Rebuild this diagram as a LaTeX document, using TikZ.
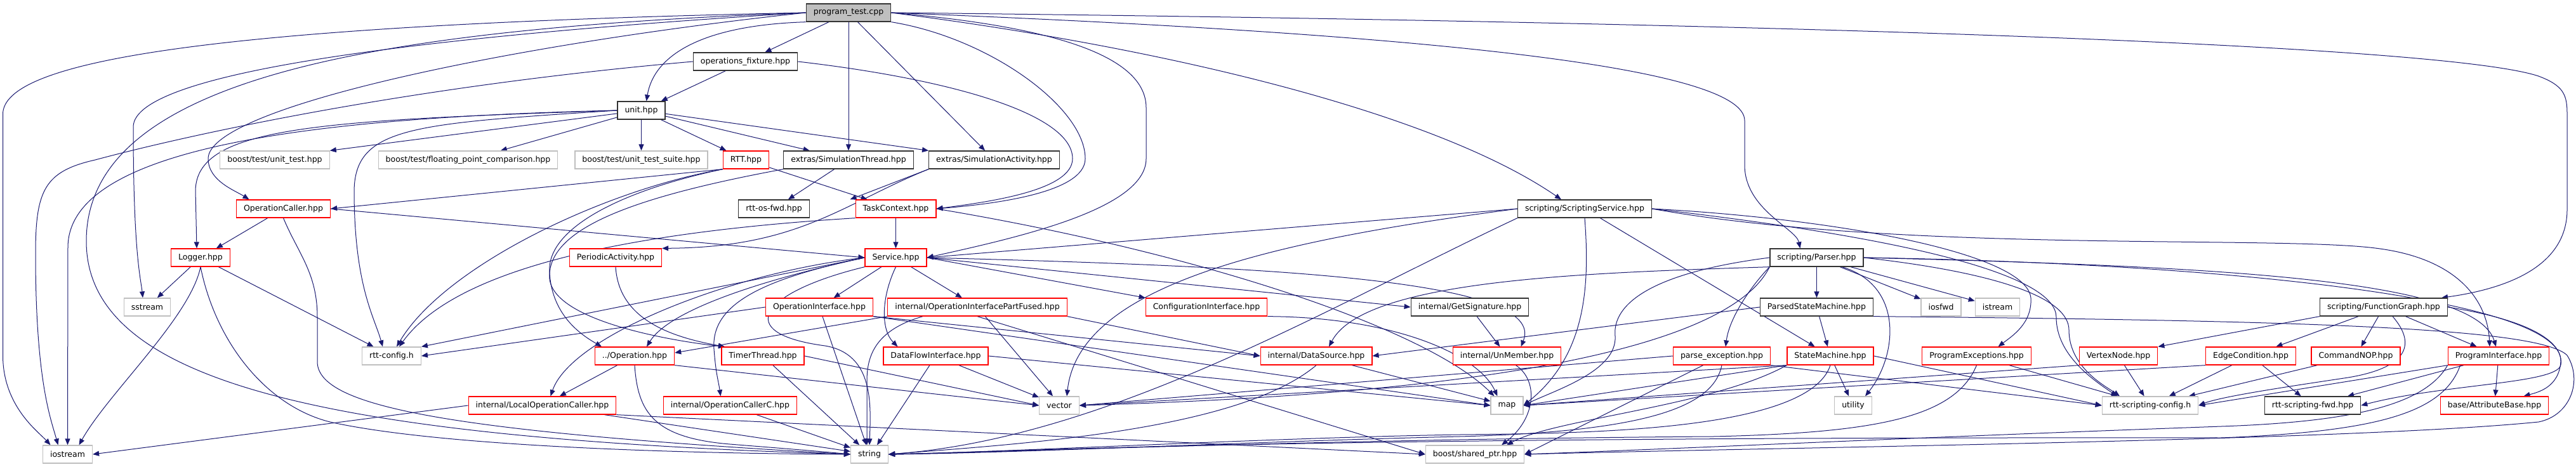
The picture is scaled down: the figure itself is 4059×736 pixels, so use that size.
\documentclass[tikz,border=0pt]{standalone}
\usepackage{fontspec}
\setmainfont{DejaVu Sans}
\usetikzlibrary{arrows.meta,backgrounds}
\definecolor{edgec}{HTML}{191970}
\definecolor{greyb}{HTML}{BFBFBF}
\definecolor{rootfill}{HTML}{BFBFBF}
\tikzset{
  nd/.style={rectangle, minimum height=28pt, inner xsep=11.5pt, inner ysep=0pt, font=\fontsize{12.5}{14}\selectfont, line width=1.3pt, fill=white},
  nblack/.style={nd, draw=black!80},
  nred/.style={nd, draw=red},
  ngrey/.style={nd, draw=greyb},
  nroot/.style={nd, draw=black!80, fill=rootfill},
  edg/.style={draw=edgec, line width=1pt, -{Triangle[length=10pt,width=8pt]}},
}
\begin{document}
\begin{tikzpicture}[x=1pt,y=-1pt]
\useasboundingbox (0,0) rectangle (4059,736);
% ---------- nodes ----------
\node[nroot] (pt) at (1337,20) {program\_test.cpp};
\node[nblack] (of) at (1174.5,97) {operations\_fixture.hpp};
\node[nblack] (unit) at (1010.5,174) {unit.hpp};
\node[ngrey] (but) at (433,252) {boost/test/unit\_test.hpp};
\node[ngrey] (bfp) at (737.5,252) {boost/test/floating\_point\_comparison.hpp};
\node[ngrey] (buts) at (1010.5,252) {boost/test/unit\_test\_suite.hpp};
\node[nred] (rtt) at (1175.5,252) {RTT.hpp};
\node[nblack] (simt) at (1337,252) {extras/SimulationThread.hpp};
\node[nblack] (sima) at (1566.5,252) {extras/SimulationActivity.hpp};
\node[nred] (opc) at (446.5,329) {OperationCaller.hpp};
\node[nblack] (osfwd) at (1219.5,329) {rtt-os-fwd.hpp};
\node[nred] (tc) at (1411.5,329) {TaskContext.hpp};
\node[nblack] (ss) at (2497,329) {scripting/ScriptingService.hpp};
\node[nred] (log) at (316,406) {Logger.hpp};
\node[nred] (pa) at (970,406) {PeriodicActivity.hpp};
\node[nred] (svc) at (1411.5,406) {Service.hpp};
\node[nblack] (parser) at (2862.5,406) {scripting/Parser.hpp};
\node[ngrey] (sst) at (232,484) {sstream};
\node[nred] (oi) at (1291,484) {OperationInterface.hpp};
\node[nred] (oipf) at (1540,484) {internal/OperationInterfacePartFused.hpp};
\node[nred] (ci) at (1901,484) {ConfigurationInterface.hpp};
\node[nblack] (gs) at (2316,484) {internal/GetSignature.hpp};
\node[nblack] (psm) at (2862.5,484) {ParsedStateMachine.hpp};
\node[ngrey] (iosfwd) at (3058.5,484) {iosfwd};
\node[ngrey] (istream) at (3147.5,484) {istream};
\node[nblack] (fg) at (3756,484) {scripting/FunctionGraph.hpp};
\node[ngrey] (rcfg) at (617,561) {rtt-config.h};
\node[nred] (op) at (1000,561) {../Operation.hpp};
\node[nred] (tt) at (1202,561) {TimerThread.hpp};
\node[nred] (dfi) at (1474.5,561) {DataFlowInterface.hpp};
\node[nred] (ds) at (2074,561) {internal/DataSource.hpp};
\node[nred] (um) at (2374.5,561) {internal/UnMember.hpp};
\node[nred] (pe) at (2713,561) {parse\_exception.hpp};
\node[nred] (sm) at (2884,561) {StateMachine.hpp};
\node[nred] (pex) at (3114.5,561) {ProgramExceptions.hpp};
\node[nred] (vn) at (3338,561) {VertexNode.hpp};
\node[nred] (ec) at (3546.5,561) {EdgeCondition.hpp};
\node[nred] (nop) at (3712,561) {CommandNOP.hpp};
\node[nred] (pi) at (3937,561) {ProgramInterface.hpp};
\node[nred] (loc) at (854.5,639) {internal/LocalOperationCaller.hpp};
\node[nred] (occ) at (1150.5,639) {internal/OperationCallerC.hpp};
\node[ngrey] (vec) at (1669,639) {vector};
\node[ngrey] (map) at (2374.5,639) {map};
\node[ngrey] (util) at (2920,639) {utility};
\node[ngrey] (rscfg) at (3388,639) {rtt-scripting-config.h};
\node[nblack] (rsfwd) at (3644,639) {rtt-scripting-fwd.hpp};
\node[nred] (ab) at (3930.5,639) {base/AttributeBase.hpp};
\node[ngrey] (ios) at (106.5,716) {iostream};
\node[ngrey] (str) at (1370,716) {string};
\node[ngrey] (sp) at (2324,716) {boost/shared\_ptr.hpp};
% ---------- edges ----------
\begin{pgfonlayer}{background}
% program_test.cpp
\draw[edg] (pt.west) .. controls (300,40) and (4.5,100) .. (4.5,180) -- (4.5,560) .. controls (4.5,640) and (60,680) .. ([xshift=-27pt]ios.north);
\draw[edg] (pt.west) .. controls (600,45) and (136,120) .. (136,380) .. controls (136,600) and (500,690) .. (str.west);
\draw[edg] (pt.west) .. controls (700,55) and (210,110) .. (210,200) .. controls (210,400) and (222,440) .. ([xshift=-7pt]sst.north);
\draw[edg] (pt.west) .. controls (800,70) and (328,170) .. (328,250) .. controls (328,285) and (370,300) .. ([xshift=-54pt]opc.north);
\draw[edg] (pt.south west) .. controls (1100,40) and (1030,90) .. ([xshift=8pt]unit.north);
\draw[edg] (pt) -- (of);
\draw[edg] (pt) -- (simt);
\draw[edg] (pt) -- (sima);
\draw[edg] (pt.south east) .. controls (1560,60) and (1710,170) .. (1710,250) .. controls (1710,305) and (1560,322) .. (tc.east);
\draw[edg] (pt.east) .. controls (1700,45) and (1806,100) .. (1806,170) -- (1806,250) .. controls (1806,330) and (1600,375) .. (svc.east);
\draw[edg] (pt.east) .. controls (1800,70) and (2250,170) .. ([xshift=-37pt]ss.north);
\draw[edg] (pt.east) .. controls (2300,55) and (2749,110) .. (2749,190) -- (2749,260) .. controls (2749,330) and (2830,360) .. ([xshift=-26pt]parser.north);
\draw[edg] (pt.east) .. controls (2800,35) and (3850,70) .. (4000,120) .. controls (4040,135) and (4045,150) .. (4045,180) -- (4045,330) .. controls (4045,420) and (3950,455) .. ([xshift=-10pt]fg.north east);
% operations_fixture.hpp
\draw[edg] (of) -- (unit);
\draw[edg] (of.west) .. controls (600,140) and (250,225) .. (150,252) .. controls (70,270) and (56,300) .. (56,400) .. controls (56,600) and (80,660) .. ([xshift=-15pt]ios.north);
\draw[edg] (of.east) .. controls (1500,125) and (1690,180) .. (1690,250) .. controls (1690,300) and (1560,318) .. (tc.east);
% unit.hpp
\draw[edg] (unit.west) .. controls (500,185) and (107,230) .. (107,390) -- (ios.north);
\draw[edg] (unit.west) .. controls (500,190) and (310,200) .. (308,300) -- ([xshift=-6pt]log.north);
\draw[edg] (unit.west) .. controls (650,195) and (560,200) .. (558,300) .. controls (558,450) and (590,500) .. ([xshift=-14pt]rcfg.north);
\draw[edg] (unit) -- (but.north east);
\draw[edg] (unit) -- (bfp);
\draw[edg] (unit) -- (buts);
\draw[edg] (unit) -- (rtt);
\draw[edg] (unit) -- (simt);
\draw[edg] (unit) -- (sima.north west);
% RTT.hpp
\draw[edg] (rtt.south west) -- (opc.east);
\draw[edg] (rtt) -- (tc);
\draw[edg] (rtt.south west) .. controls (950,300) and (700,420) .. ([xshift=8pt]rcfg.north);
\draw[edg] (rtt.south west) .. controls (980,300) and (860,360) .. (866,430) .. controls (870,500) and (920,530) .. ([xshift=-52pt]op.north);
% SimulationThread / SimulationActivity
\draw[edg] (simt) -- (osfwd);
\draw[edg] (simt.south west) .. controls (1000,310) and (860,360) .. (866,440) .. controls (875,510) and (1080,540) .. ([xshift=-60pt]tt.north);
\draw[edg] (sima.south west) -- ([xshift=-8pt]tc.north west);
\draw[edg] (sima.south west) .. controls (1330,320) and (1260,390) .. (pa.north east);
% TaskContext.hpp
\draw[edg] (tc) -- (svc);
\draw[edg] (tc.south west) .. controls (1000,365) and (720,420) .. ([xshift=12pt]rcfg.north);
\draw[edg] (tc.east) .. controls (1900,400) and (2250,520) .. ([xshift=-20pt]map.north);
% OperationCaller.hpp
\draw[edg] (opc) -- (log);
\draw[edg] (opc.east) -- (svc.west);
\draw[edg] (opc.south) .. controls (470,400) and (500,430) .. (500,500) -- (500,570) .. controls (500,640) and (700,680) .. (str.west);
% Logger.hpp
\draw[edg] (log) -- (sst);
\draw[edg] (log.south) .. controls (300,500) and (170,620) .. ([xshift=18pt]ios.north);
\draw[edg] (log.south) .. controls (340,540) and (420,640) .. (520,665) .. controls (700,705) and (1100,715) .. (str.west);
\draw[edg] (log) -- (rcfg);
% PeriodicActivity.hpp
\draw[edg] (pa.south) .. controls (975,500) and (1050,530) .. ([xshift=-60pt]tt.north);
% Service.hpp
\draw[edg] (svc) -- (oi);
\draw[edg] (svc) -- (oipf);
\draw[edg] (svc.east) -- (ci.north west);
\draw[edg] (svc.east) -- (gs.west);
\draw[edg] (svc.east) .. controls (2000,420) and (2440,440) .. ([xshift=22pt]um.north);
\draw[edg] (svc.west) .. controls (1250,430) and (1060,480) .. ([xshift=19pt]op.north);
\draw[edg] (svc.west) .. controls (1150,430) and (900,530) .. ([xshift=13pt]loc.north);
\draw[edg] (svc.west) .. controls (1200,440) and (1120,480) .. (1125,550) .. controls (1128,590) and (1132,600) .. ([xshift=-15pt]occ.north);
\draw[edg] (svc.south west) .. controls (1200,460) and (1150,525) .. (1300,545) .. controls (1378,558) and (1372,640) .. (str.north);
\draw[edg] (svc.west) -- (rcfg.north east);
\draw[edg] (svc.south) .. controls (1388,470) and (1388,520) .. ([xshift=-60pt]dfi.north);
% OperationInterface.hpp
\draw[edg] (oi.west) -- (rcfg.east);
\draw[edg] (oi) -- (str);
\draw[edg] (oi.south east) -- (ds.west);
\draw[edg] (oi.south east) -- (map.west);
% OperationInterfacePartFused.hpp
\draw[edg] (oipf.south west) -- ([yshift=5pt]op.east);
\draw[edg] (oipf) -- ([xshift=-10pt]vec.north);
\draw[edg] ([xshift=-86pt]oipf.south) .. controls (1380,520) and (1366,560) .. (1366,600) -- ([xshift=-4pt]str.north);
\draw[edg] (oipf.south) -- (sp.west);
\draw[edg] (oipf.south east) -- (ds.west);
% ConfigurationInterface, GetSignature, UnMember, DataSource, DataFlowInterface
\draw[edg] (ci.south east) .. controls (2200,500) and (2330,560) .. ([xshift=-15pt]map.north);
\draw[edg] (gs) -- (um);
\draw[edg] ([xshift=14pt]um.south) .. controls (2425,600) and (2420,660) .. ([xshift=42pt]sp.north);
\draw[edg] (ds) -- (map);
\draw[edg] (ds.south) .. controls (1950,680) and (1600,700) .. (str.east);
\draw[edg] (dfi) -- (vec);
\draw[edg] (dfi) -- ([xshift=12pt]str.north);
\draw[edg] (dfi.east) -- (map.west);
% TimerThread, Operation, LocalOperationCaller, OperationCallerC
\draw[edg] (tt) -- (str);
\draw[edg] (tt.east) -- (vec.west);
\draw[edg] (op) -- (loc);
\draw[edg] (op.south) .. controls (1005,650) and (1030,690) .. (1150,700) .. controls (1250,708) and (1300,712) .. (str.west);
\draw[edg] (op.south east) -- (vec.west);
\draw[edg] (loc.west) -- (ios.east);
\draw[edg] (loc) -- (str);
\draw[edg] (loc.south east) -- (sp.west);
\draw[edg] (occ) -- (str);
% ScriptingService.hpp
\draw[edg] (ss.west) -- (svc.east);
\draw[edg] (ss.west) .. controls (2000,380) and (1700,450) .. ([xshift=12pt]vec.north);
\draw[edg] (ss.south west) .. controls (2100,480) and (1750,690) .. (str.east);
\draw[edg] (ss.south) .. controls (2505,450) and (2500,560) .. (map.east);
\draw[edg] (ss) -- (sm);
\draw[edg] (ss.east) .. controls (2900,345) and (3195,400) .. (3200,470) .. controls (3202,510) and (3170,530) .. ([xshift=34pt]pex.north);
\draw[edg] (ss.east) .. controls (3050,380) and (3240,440) .. (3240,500) .. controls (3240,560) and (3300,600) .. ([xshift=-52pt]rscfg.north);
\draw[edg] (ss.east) .. controls (3000,400) and (3600,370) .. (3750,392) .. controls (3880,410) and (3920,480) .. ([xshift=-14pt]pi.north);
% Parser.hpp
\draw[edg] (parser.south west) .. controls (2500,430) and (2150,440) .. ([xshift=20pt]ds.north);
\draw[edg] (parser.south west) .. controls (2760,450) and (2725,500) .. ([xshift=6pt]pe.north);
\draw[edg] (parser) -- (psm);
\draw[edg] (parser) -- (iosfwd);
\draw[edg] (parser) -- (istream);
\draw[edg] ([xshift=40pt]parser.south) .. controls (3000,450) and (2990,560) .. ([xshift=19pt]util.north);
\draw[edg] (parser.east) .. controls (3150,430) and (3260,470) .. (3260,520) .. controls (3260,580) and (3320,610) .. ([xshift=-48pt]rscfg.north);
\draw[edg] (parser.west) .. controls (2600,430) and (2540,480) .. (2545,530) .. controls (2548,585) and (2450,615) .. (map.east);
\draw[edg] (parser.south west) .. controls (2700,600) and (2000,630) .. (vec.east);
\draw[edg] (parser.east) .. controls (3500,420) and (3900,440) .. ([xshift=-4pt]pi.north);
\draw[edg] (parser.east) .. controls (3500,415) and (4040,470) .. (4035,570) .. controls (4032,610) and (4000,618) .. ([xshift=46pt]ab.north);
% ParsedStateMachine.hpp
\draw[edg] (psm) -- (sm);
\draw[edg] (psm.west) -- (ds.east);
\draw[edg] (psm.south east) .. controls (3600,505) and (4000,515) .. (4045,560) .. controls (4070,600) and (4050,655) .. (4000,665) .. controls (3700,695) and (2800,705) .. (sp.east);
% StateMachine.hpp
\draw[edg] (sm) -- (util);
\draw[edg] (sm.south west) -- (map.east);
\draw[edg] (sm.south west) -- (vec.east);
\draw[edg] (sm.south west) .. controls (2700,640) and (2450,660) .. ([xshift=50pt]sp.north);
\draw[edg] (sm.east) -- (rscfg.west);
\draw[edg] (sm.south) .. controls (2850,680) and (2500,683) .. (2300,685) .. controls (2000,690) and (1600,712) .. (str.east);
% parse_exception.hpp
\draw[edg] (pe.west) -- (vec.east);
\draw[edg] (pe.south) .. controls (2700,640) and (2600,680) .. (2300,688) .. controls (2000,695) and (1600,714) .. (str.east);
\draw[edg] (pe) -- (sp.east);
\draw[edg] (pe.south east) -- (rscfg.west);
% ProgramExceptions, VertexNode, EdgeCondition, CommandNOP
\draw[edg] (pex) -- (rscfg);
\draw[edg] (pex.south) .. controls (3080,660) and (2950,682) .. (2700,688) .. controls (2100,692) and (1600,712) .. (str.east);
\draw[edg] (vn) -- (rscfg);
\draw[edg] (vn.south west) -- (map.east);
\draw[edg] (ec) -- (rscfg);
\draw[edg] (ec) -- (rsfwd);
\draw[edg] (ec.south west) -- (map.east);
\draw[edg] (nop) -- (rscfg);
% FunctionGraph.hpp
\draw[edg] (fg.south west) -- (vn.north east);
\draw[edg] (fg) -- (ec);
\draw[edg] (fg) -- (nop);
\draw[edg] (fg) -- (pi);
\draw[edg] ([xshift=14pt]fg.south) .. controls (3810,545) and (3790,580) .. (3700,595) .. controls (3600,610) and (3500,625) .. (rscfg.east);
\draw[edg] (fg.east) .. controls (3990,505) and (4040,540) .. (4035,575) .. controls (4030,605) and (3850,605) .. (rsfwd.east);
% ProgramInterface.hpp
\draw[edg] (pi) -- (ab);
\draw[edg] (pi) -- (rsfwd);
\draw[edg] (pi.south west) -- (rscfg.east);
\draw[edg] (pi.south west) .. controls (3820,640) and (3700,665) .. (3500,672) .. controls (3000,690) and (2700,705) .. (sp.east);
\draw[edg] ([xshift=20pt]pi.south west) .. controls (3850,650) and (3750,680) .. (3500,690) .. controls (2000,688) and (1600,712) .. (str.east);
\end{pgfonlayer}
\end{tikzpicture}
\end{document}
